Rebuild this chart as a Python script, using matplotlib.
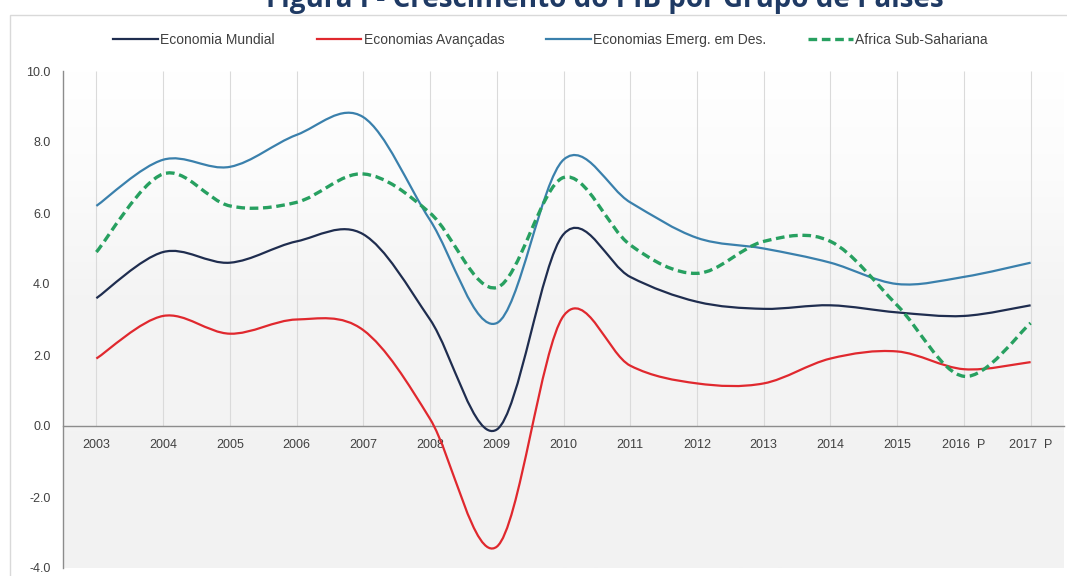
import matplotlib
matplotlib.use('Agg')
import matplotlib.pyplot as plt
import numpy as np
from matplotlib.path import Path
from matplotlib.patches import PathPatch, Rectangle
from matplotlib.lines import Line2D
from matplotlib.colors import LinearSegmentedColormap

years = ['2003', '2004', '2005', '2006', '2007', '2008', '2009', '2010',
         '2011', '2012', '2013', '2014', '2015', '2016  P', '2017  P']
economia_mundial = [3.6, 4.9, 4.6, 5.2, 5.4, 3.0, -0.1, 5.4, 4.2, 3.5, 3.3, 3.4, 3.2, 3.1, 3.4]
economias_avancadas = [1.9, 3.1, 2.6, 3.0, 2.7, 0.2, -3.4, 3.1, 1.7, 1.2, 1.2, 1.9, 2.1, 1.6, 1.8]
economias_emergentes = [6.2, 7.5, 7.3, 8.2, 8.7, 5.8, 2.9, 7.5, 6.3, 5.3, 5.0, 4.6, 4.0, 4.2, 4.6]
africa_subsahariana = [4.9, 7.1, 6.2, 6.3, 7.1, 6.0, 3.9, 7.0, 5.1, 4.3, 5.2, 5.2, 3.4, 1.4, 2.9]
series_names = ['Economia Mundial', 'Economias Avançadas',
                'Economias Emerg. em Des.', 'Africa Sub-Sahariana']
y_ticks = [-4.0, -2.0, 0.0, 2.0, 4.0, 6.0, 8.0, 10.0]
title = 'Figura I - Crescimento do PIB por Grupo de Países'


def smooth_path(xs, ys):
    """Excel-style smoothed line as cubic Bezier segments through the data points."""
    pts = np.column_stack([xs, ys]).astype(float)
    n = len(pts)
    verts = [pts[0]]
    codes = [Path.MOVETO]
    for i in range(n - 1):
        p0 = pts[i - 1] if i > 0 else pts[i]
        p1 = pts[i]
        p2 = pts[i + 1]
        p3 = pts[i + 2] if i + 2 < n else pts[i + 1]
        c1 = p1 + (p2 - p0) / 6.0
        c2 = p2 - (p3 - p1) / 6.0
        verts += [c1, c2, p2]
        codes += [Path.CURVE4] * 3
    return Path(verts, codes)


fig = plt.figure(figsize=(10.67, 5.76), dpi=100)
fig.patch.set_facecolor('white')

# chart area border (partially visible)
fig.patches.append(Rectangle((10 / 1067, -0.01), 1.1, 1 - 15 / 576 + 0.01,
                             transform=fig.transFigure, fill=False,
                             edgecolor='#d9d9d9', linewidth=1.0))

# title, clipped at the top edge as in the source image
fig.text(0.567, 1 - 7 / 576, title, ha='center', va='baseline',
         fontsize=20, fontweight='bold', color='#1f3a64', family='Open Sans')

ax = fig.add_axes([63 / 1067, 1 - 568 / 576, (1064 - 63) / 1067, (568 - 71) / 576])
x = np.arange(len(years))

# gradient background
grad = np.linspace(0, 1, 256).reshape(-1, 1)
cmap = LinearSegmentedColormap.from_list(
    'bg', [(0.0, '#f2f2f2'), (0.55, '#f4f4f4'), (0.78, '#fbfbfb'), (1.0, '#ffffff')])
ax.imshow(grad, extent=[0, 1, 0, 1], transform=ax.transAxes, cmap=cmap,
          aspect='auto', origin='lower', zorder=0)
ax.set_xlim(-0.5, len(years) - 0.5)
ax.set_ylim(-4, 10)

# vertical gridlines
ax.vlines(x, 0, 10, colors='#dadada', linewidth=0.8, zorder=1)

styles = [
    dict(color='#1f2d4f', linewidth=1.6, linestyle='-'),
    dict(color='#e0282e', linewidth=1.6, linestyle='-'),
    dict(color='#3a80ac', linewidth=1.6, linestyle='-'),
    dict(color='#27a060', linewidth=2.4, linestyle=(0, (2.6, 1.4))),
]
data = [economia_mundial, economias_avancadas, economias_emergentes, africa_subsahariana]
handles = []
for vals, st, name in zip(data, styles, series_names):
    p = smooth_path(x, vals)
    patch = PathPatch(p, fill=False, edgecolor=st['color'], linewidth=st['linewidth'],
                      linestyle=st['linestyle'], zorder=3, capstyle='butt')
    ax.add_patch(patch)
    handles.append(Line2D([], [], color=st['color'], linewidth=st['linewidth'],
                          linestyle=st['linestyle'], label=name))

# spines
for s in ['top', 'right']:
    ax.spines[s].set_visible(False)
ax.spines['left'].set_color('#8c8c8c')
ax.spines['left'].set_linewidth(1.0)
ax.spines['bottom'].set_position(('data', 0))
ax.spines['bottom'].set_color('#8c8c8c')
ax.spines['bottom'].set_linewidth(1.0)

ax.set_xticks(x)
ax.set_xticklabels(years, fontsize=9, color='#404040', family='Liberation Sans')
ax.tick_params(axis='x', length=0, pad=9)
ax.set_yticks(y_ticks)
ax.set_yticklabels([f'{v:.1f}' for v in y_ticks], fontsize=9, color='#404040',
                   family='Liberation Sans')
ax.tick_params(axis='y', length=0, pad=9)

leg = fig.legend(handles=handles, loc='center', bbox_to_anchor=(0.516, 1 - 40 / 576),
                 ncol=4, frameon=False, handlelength=3.2,
                 handletextpad=0.2, columnspacing=3.0,
                 prop={'family': 'Liberation Sans', 'size': 10})
for t in leg.get_texts():
    t.set_color('#404040')

fig.savefig('out.png', dpi=100)
